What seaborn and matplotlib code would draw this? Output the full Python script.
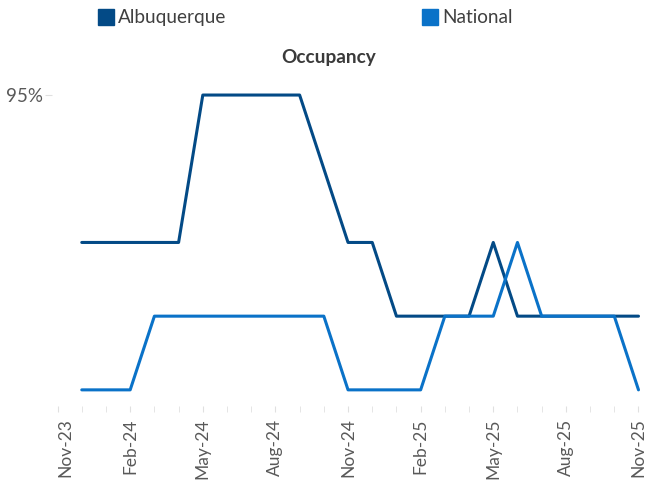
import matplotlib
matplotlib.use("Agg")
import matplotlib.pyplot as plt
import matplotlib.transforms as mtransforms
from matplotlib.lines import Line2D
import seaborn as sns
import pandas as pd

# monthly occupancy (%), Dec-23 .. Nov-25
months = ['Dec-23', 'Jan-24', 'Feb-24', 'Mar-24', 'Apr-24', 'May-24', 'Jun-24', 'Jul-24',
          'Aug-24', 'Sep-24', 'Oct-24', 'Nov-24', 'Dec-24', 'Jan-25', 'Feb-25', 'Mar-25',
          'Apr-25', 'May-25', 'Jun-25', 'Jul-25', 'Aug-25', 'Sep-25', 'Oct-25', 'Nov-25']
albuquerque = [93, 93, 93, 93, 93, 95, 95, 95, 95, 95, 94, 93, 93, 92, 92, 92,
               92, 93, 92, 92, 92, 92, 92, 92]
national = [91, 91, 91, 92, 92, 92, 92, 92, 92, 92, 92, 91, 91, 91, 91, 92,
            92, 92, 93, 92, 92, 92, 92, 91]
tick_labels = ['Nov-23', 'Feb-24', 'May-24', 'Aug-24', 'Nov-24', 'Feb-25', 'May-25', 'Aug-25', 'Nov-25']

series = ['Albuquerque', 'National']
colors = ['#034A86', '#0A72C8']

# month index: Nov-23 = 0, so data starts at 1
idx = list(range(1, len(months) + 1))
df = pd.DataFrame({
    'idx': idx * 2,
    'value': albuquerque + national,
    'series': ['Albuquerque'] * len(idx) + ['National'] * len(idx),
})

sns.set_style("white")
plt.rcParams['font.family'] = ['Lato', 'DejaVu Sans']

fig = plt.figure(figsize=(6.46, 4.8), dpi=100)
ax = fig.add_axes([0.0805, 0.154, 0.912, 0.648])

sns.lineplot(data=df, x='idx', y='value', hue='series', palette=dict(zip(series, colors)),
             linewidth=2.2, ax=ax, legend=False)
for ln in ax.lines:
    ln.set_clip_on(False)

ax.set_xlim(-0.23, 24.11)
ax.set_ylim(90.78, 95)
ax.set_xticks(range(0, 25, 3))
ax.set_xticklabels(tick_labels, rotation=90, color='#595959', fontsize=12.5)
ax.set_xticks(range(0, 25), minor=True)
ax.set_yticks([95])
ax.set_yticklabels(['95%'], color='#595959', fontsize=13.5)
ax.tick_params(axis='x', which='both', length=4, color='#e0e0e0', bottom=True, pad=5)
ax.tick_params(axis='y', length=5, color='#e0e0e0', left=True, pad=1.5)
for s in ax.spines.values():
    s.set_visible(False)
ax.set_xlabel('')
ax.set_ylabel('')

# first date label sits a little to the right, like in the source
first = ax.get_xticklabels()[0]
first.set_transform(first.get_transform() + mtransforms.ScaledTranslation(0.08, 0, fig.dpi_scale_trans))

fig.text(0.508, 0.880, 'Occupancy', ha='center', va='center', fontsize=13.7,
         fontweight='bold', color='#3a3a3a')

handles = [Line2D([], [], marker='s', linestyle='none', markersize=11, color=c) for c in colors]
fig.legend(handles, series, loc='center left', bbox_to_anchor=(0.149, 0.963), ncol=2,
           frameon=False, fontsize=13.7, handletextpad=0.15, columnspacing=10.2,
           labelcolor='#404040', handlelength=1.0, borderpad=0, borderaxespad=0)

plt.savefig('out.png', dpi=100)
